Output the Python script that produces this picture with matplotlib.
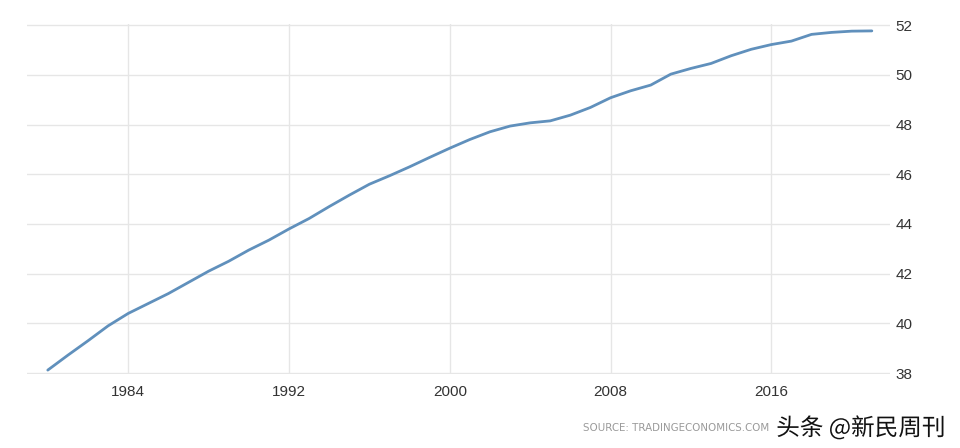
import matplotlib
matplotlib.use("Agg")
import matplotlib.pyplot as plt
import matplotlib.patheffects as pe

# median age, yearly
years = list(range(1980, 2022))
values = [38.12, 38.72, 39.3, 39.9, 40.4, 40.8, 41.2, 41.65, 42.1, 42.5,
          42.95, 43.35, 43.8, 44.22, 44.7, 45.16, 45.6, 45.94, 46.3, 46.68,
          47.05, 47.4, 47.71, 47.94, 48.07, 48.15, 48.38, 48.69, 49.08, 49.36,
          49.59, 50.03, 50.26, 50.46, 50.77, 51.03, 51.22, 51.36, 51.63, 51.71,
          51.76, 51.77]
xticks = [1984, 1992, 2000, 2008, 2016]
yticks = [38, 40, 42, 44, 46, 48, 50, 52]

fig = plt.figure(figsize=(9.6, 4.48), dpi=100)
ax = fig.add_axes([0.028, 0.165, 0.899, 0.781])

ax.plot(years, values, color="#6090bc", lw=2.0, solid_capstyle="round")

ax.set_xlim(1978.96, 2021.9)
ax.set_ylim(37.96, 52.04)
ax.set_xticks(xticks)
ax.set_yticks(yticks)
ax.yaxis.tick_right()
ax.grid(color="#e6e6e6", lw=1)
ax.set_axisbelow(True)
for s in ax.spines.values():
    s.set_visible(False)
ax.tick_params(length=0, labelsize=11, labelcolor="#333333")
ax.tick_params(axis="x", pad=8)
ax.tick_params(axis="y", pad=4)
for lab in ax.get_xticklabels() + ax.get_yticklabels():
    lab.set_family("Liberation Sans")

fig.text(0.607, 0.045, "SOURCE: TRADINGECONOMICS.COM", fontsize=7.4,
         color="#9a9a9a", ha="left", va="center", family="DejaVu Sans")
fig.text(0.985, 0.045, "头条 @新民周刊", fontsize=17, color="#111111",
         ha="right", va="center", family=["Noto Sans CJK SC", "DejaVu Sans"],
         path_effects=[pe.withStroke(linewidth=3, foreground="white")])

plt.savefig("out.png", dpi=100)
